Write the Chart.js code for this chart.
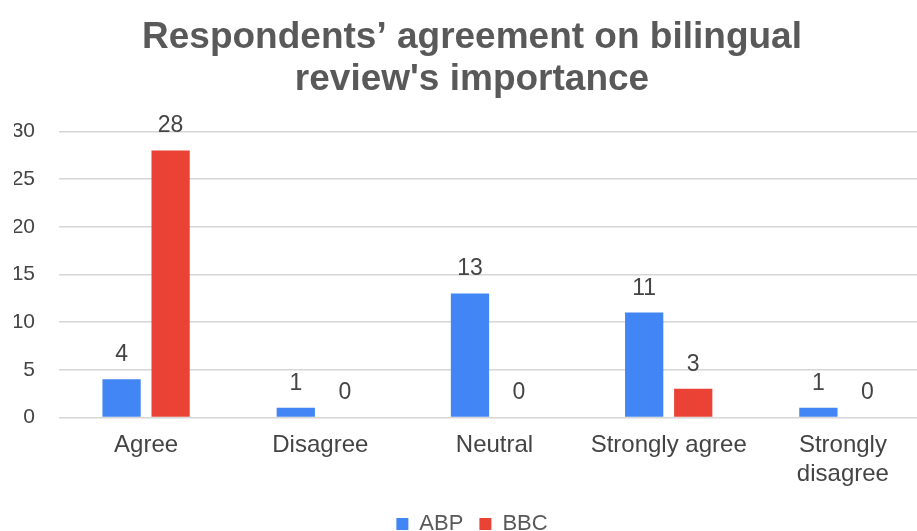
<!DOCTYPE html>
<html>
<head>
<meta charset="utf-8">
<script src="https://cdn.jsdelivr.net/npm/chart.js@4"></script>
<style>
    html, body { margin: 0; padding: 0; background: #fff; overflow: hidden; }
    #wrap { width: 935px; height: 545px; }
</style>
</head>
<body>
<div id="wrap"><canvas id="agreementChart" width="935" height="545"></canvas></div>
<script>
const categories = ['Agree', 'Disagree', 'Neutral', 'Strongly agree', ['Strongly', 'disagree']];
const abpValues = [4, 1, 13, 11, 1];
const bbcValues = [28, 0, 0, 3, 0];
const yTicks = [0, 5, 10, 15, 20, 25, 30];

const FONT = '"Liberation Sans", Arial, sans-serif';

// writes each bar's value just above it
const valueLabels = {
    id: 'valueLabels',
    afterDatasetsDraw(chart) {
        const ctx = chart.ctx;
        ctx.save();
        ctx.font = '23px ' + FONT;
        ctx.fillStyle = '#444444';
        ctx.textAlign = 'center';
        ctx.textBaseline = 'alphabetic';
        chart.data.datasets.forEach((ds, i) => {
            chart.getDatasetMeta(i).data.forEach((bar, j) => {
                ctx.fillText(String(ds.data[j]), bar.x, bar.y - 18);
            });
        });
        ctx.restore();
    }
};

new Chart(document.getElementById('agreementChart').getContext('2d'), {
    type: 'bar',
    data: {
        labels: categories,
        datasets: [{
            label: 'ABP',
            data: abpValues,
            backgroundColor: '#4285F4',
            categoryPercentage: 0.563,
            barPercentage: 0.78
        }, {
            label: 'BBC',
            data: bbcValues,
            backgroundColor: '#EA4335',
            categoryPercentage: 0.563,
            barPercentage: 0.78
        }]
    },
    options: {
        responsive: false,
        animation: false,
        layout: { padding: { left: 14, right: 5, top: 6, bottom: 0 } },
        plugins: {
            title: {
                display: true,
                text: ['Respondents\u2019 agreement on bilingual', "review's importance"],
                color: '#595959',
                font: { family: FONT, size: 37, weight: 'bold', lineHeight: 1.14 },
                padding: { top: 11, bottom: 30 }
            },
            legend: {
                position: 'bottom',
                labels: {
                    color: '#595959',
                    font: { family: FONT, size: 22 },
                    boxWidth: 12,
                    boxHeight: 12,
                    padding: 16
                }
            },
            tooltip: { enabled: false }
        },
        scales: {
            x: {
                grid: { display: false },
                border: { display: false },
                afterFit(axis) {
                    axis.height += 2;
                },
                ticks: {
                    color: '#444444',
                    font: { family: FONT, size: 24 },
                    maxRotation: 0,
                    padding: 6
                }
            },
            y: {
                min: 0,
                max: 30,
                afterBuildTicks(axis) {
                    axis.ticks = yTicks.map(v => ({ value: v }));
                },
                afterFit(axis) {
                    axis.width = 45;
                },
                grid: { color: '#d6d6d6', lineWidth: 1.5, drawTicks: false },
                border: { display: false },
                ticks: {
                    color: '#444444',
                    font: { family: FONT, size: 21 },
                    padding: 24
                }
            }
        }
    },
    plugins: [valueLabels]
});
</script>
</body>
</html>
